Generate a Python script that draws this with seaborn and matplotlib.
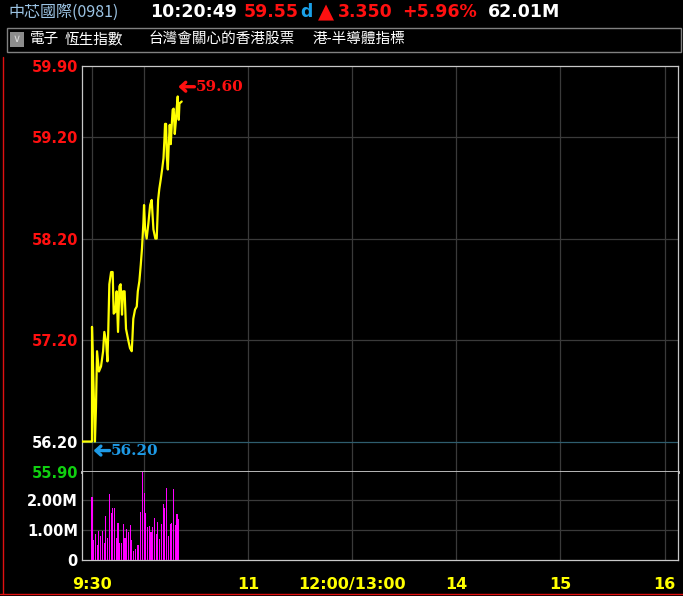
import numpy as np
import pandas as pd
import matplotlib
matplotlib.use("Agg")
import matplotlib.pyplot as plt
import matplotlib.transforms as mtransforms
import seaborn as sns
from matplotlib.patches import Rectangle
from matplotlib.lines import Line2D

# ---------------- data ----------------
# minutes after 9:30 (lunch break collapsed), price
minutes = [-5.8, 0.0, 0.0, 1.2, 1.7, 2.3, 2.9, 4.0, 5.2, 6.4, 7.1, 8.1, 8.9, 9.4,
           10.0, 11.0, 11.9, 12.5, 13.5, 14.2, 15.0, 15.8, 16.5, 17.3, 17.9,
           18.8, 19.6, 21.0, 21.9, 22.9, 23.3, 23.8, 24.8, 25.8, 26.4, 27.3,
           28.1, 28.8, 29.6, 30.0, 30.6, 31.5, 32.5, 33.5, 34.4, 35.4, 36.5,
           37.3, 38.1, 38.8, 39.6, 40.4, 41.2, 41.7, 42.1, 42.7, 43.1, 43.7,
           44.2, 44.8, 45.4, 46.0, 46.5, 47.1, 47.7, 48.3, 48.8, 49.4, 50.0,
           50.4, 51.7]
prices = [56.20, 56.20, 57.33, 56.55, 56.20, 56.54, 57.09, 56.89, 56.94, 57.09,
          57.28, 57.19, 56.99, 57.31, 57.75, 57.87, 57.87, 57.46, 57.48, 57.68,
          57.28, 57.73, 57.75, 57.45, 57.68, 57.68, 57.31, 57.19, 57.12, 57.09,
          57.22, 57.41, 57.50, 57.53, 57.68, 57.78, 57.94, 58.10, 58.35, 58.53,
          58.29, 58.20, 58.35, 58.53, 58.58, 58.29, 58.20, 58.20, 58.58, 58.69,
          58.78, 58.88, 58.99, 59.16, 59.33, 59.33, 59.01, 58.88, 59.11, 59.32,
          59.13, 59.33, 59.47, 59.48, 59.23, 59.35, 59.48, 59.60, 59.37, 59.53,
          59.55]

vol_minutes = list(range(51))
vol_m = [2.09, 0.67, 0.87, 0.50, 0.98, 0.80, 0.96, 0.58, 1.47, 0.74,
         2.20, 1.58, 1.74, 1.74, 0.74, 1.24, 0.58, 0.58, 1.20, 0.74,
         1.04, 0.94, 1.16, 0.66, 0.30, 0.37, 0.50, 0.50, 1.59, 2.92,
         2.23, 1.58, 1.10, 1.14, 0.93, 1.11, 1.40, 0.87, 1.27, 0.70,
         1.20, 1.87, 1.74, 2.40, 0.80, 1.20, 1.23, 2.37, 1.16, 1.53, 1.37]

prev_close = 56.20
high_price = 59.60

price_ticks = [59.90, 59.20, 58.20, 57.20, 56.20, 55.90]
price_tick_labels = ["59.90", "59.20", "58.20", "57.20", "56.20", "55.90"]
price_tick_colors = ["#ff1010", "#ff1010", "#ff1010", "#ff1010", "#ffffff", "#10d010"]
grid_prices = [59.20, 58.20, 57.20]

vol_ticks = [0, 1, 2]
vol_tick_labels = ["0", "1.00M", "2.00M"]

time_ticks = [0, 90, 150, 210, 270, 330]
time_labels = ["9:30", "11", "12:00/13:00", "14", "15", "16"]
grid_times = [0, 30, 90, 150, 210, 270, 330]

stock_name = "中芯國際(0981)"
quote_time = "10:20:49"
last_price = "59.55"
change = "3.350"
change_pct = "+5.96%"
turnover = "62.01M"
categories = ["電子", "恆生指數", "台灣會關心的香港股票", "港-半導體指標"]

# ---------------- styling ----------------
sns.set_style("dark")
plt.rcParams["font.family"] = ["DejaVu Sans"]
W, H = 683, 596
def fx(x): return x / W
def fy(y): return 1 - y / H

fig = plt.figure(figsize=(W / 100, H / 100), dpi=100, facecolor="black")

x0, x1 = 82, 678
yp_top, yp_bot, yv_bot = 66, 472, 560
ax_p = fig.add_axes([fx(x0), fy(yp_bot), (x1 - x0) / W, (yp_bot - yp_top) / H])
ax_v = fig.add_axes([fx(x0), fy(yv_bot), (x1 - x0) / W, (yv_bot - yp_bot) / H], sharex=ax_p)
for ax in (ax_p, ax_v):
    ax.set_facecolor("black")
    ax.grid(False)

grid_c = "#3a3a3a"
for t in grid_times:
    ax_p.axvline(t, color=grid_c, lw=0.9, zorder=1)
    ax_v.axvline(t, color=grid_c, lw=0.9, zorder=1)
for p in grid_prices:
    ax_p.axhline(p, color=grid_c, lw=0.9, zorder=1)
for v in vol_ticks[1:]:
    ax_v.axhline(v, color=grid_c, lw=0.9, zorder=1)
ax_p.axhline(prev_close, color="#2e5d6e", lw=0.9, zorder=1)

df_p = pd.DataFrame({"t": minutes, "price": prices})
sns.lineplot(data=df_p, x="t", y="price", ax=ax_p, color="#ffff00", lw=1.6,
             estimator=None, sort=False, zorder=3)

df_v = pd.DataFrame({"t": vol_minutes, "vol": vol_m})
sns.barplot(data=df_v, x="t", y="vol", ax=ax_v, native_scale=True, width=0.62,
            color="#ff00ff", saturation=1, errorbar=None, linewidth=0, zorder=3)
for patch in ax_v.patches:
    patch.set_antialiased(False)

px_per_min = 1.735
ax_p.set_xlim((x0 - 92) / px_per_min, (x1 - 92) / px_per_min)
ax_p.set_ylim(55.90, 59.90)
ax_v.set_ylim(0, (yv_bot - yp_bot) / 30.0)

# ticks
ax_p.set_yticks(price_ticks)
ax_p.set_yticklabels(price_tick_labels)
for lbl, c in zip(ax_p.get_yticklabels(), price_tick_colors):
    lbl.set_color(c)
    lbl.set_fontweight("bold")
    lbl.set_fontsize(10.5)
ax_p.tick_params(axis="y", length=0, pad=3)
ax_p.tick_params(axis="x", length=0, labelbottom=False)

ax_v.set_yticks(vol_ticks)
ax_v.set_yticklabels(vol_tick_labels, color="white", fontweight="bold", fontsize=10.5)
ax_v.tick_params(axis="y", length=0, pad=3)
ax_v.set_xticks(time_ticks)
ax_v.set_xticklabels(time_labels, color="#ffff00", fontweight="bold", fontsize=11.5)
ax_v.tick_params(axis="x", length=5, width=1, color="#ffff00", pad=7, direction="out")
ax_p.set_xlabel(""); ax_p.set_ylabel("")
ax_v.set_xlabel(""); ax_v.set_ylabel("")

# spines
for name, sp in ax_p.spines.items():
    sp.set_visible(True)
    sp.set_color("#c8c8c8")
    sp.set_linewidth(0.9)
ax_p.spines["bottom"].set_linewidth(2.0)
for name, sp in ax_v.spines.items():
    sp.set_visible(name != "top")
    sp.set_color("#c8c8c8")
    sp.set_linewidth(0.9)

# annotations: thick left arrow + value
num_font = dict(family="DejaVu Serif", fontweight="bold", fontsize=11)
arrow_style = "->,head_length=0.35,head_width=0.32"

def marker_label(x, y, dy, value, color):
    base = mtransforms.offset_copy(ax_p.transData, fig=fig, x=0.5, y=dy, units="points")
    ax_p.annotate("", xy=(x, y), xycoords=base, xytext=(11.5, 0),
                  textcoords="offset points",
                  arrowprops=dict(arrowstyle=arrow_style, color=color, lw=2.4,
                                  shrinkA=0, shrinkB=0), zorder=5)
    ax_p.annotate(f"{value:.2f}", xy=(x, y), xycoords=base, xytext=(12.5, -0.5),
                  textcoords="offset points", ha="left", va="center", color=color,
                  **num_font, zorder=5)

hi_t = minutes[prices.index(high_price)]
marker_label(hi_t, high_price, 7.0, high_price, "#ff1010")
marker_label(0.5, prev_close, -6.5, prev_close, "#1e9ae6")

# header
cjk = ["Noto Sans CJK TC", "DejaVu Sans"]
fig.text(fx(8), fy(12), stock_name, color="#9cc4e4", fontsize=11.5, family=cjk, va="center")
hb = dict(fontsize=12.5, fontweight="bold", va="center")
fig.text(fx(150), fy(12), quote_time, color="white", **hb)
fig.text(fx(244), fy(12), last_price, color="#ff1010", **hb)
fig.text(fx(300), fy(12), "d", color="#1aa0e8", **hb)
fig.text(fx(318), fy(12.5), "▲", color="#ff1010", fontsize=15, va="center")
fig.text(fx(338), fy(12), change, color="#ff1010", **hb)
fig.text(fx(402), fy(12), change_pct, color="#ff1010", **hb)
fig.text(fx(488), fy(12), turnover, color="white", **hb)

fig.patches.append(Rectangle((fx(7), fy(52)), (681 - 7) / W, (52 - 28) / H,
                             transform=fig.transFigure, fill=False, ec="#808080", lw=1))
fig.patches.append(Rectangle((fx(10), fy(47)), 14 / W, 15 / H,
                             transform=fig.transFigure, fill=True, fc="#8c8c8c", ec="none"))
fig.text(fx(17), fy(39.5), "∨", color="#d8d8d8", fontsize=8, ha="center", va="center")
cat_x = [30, 65, 149, 313]
for cx, cat in zip(cat_x, categories):
    fig.text(fx(cx), fy(39), cat, color="white", fontsize=10.5, family=cjk, va="center")

# window frame
fig.lines.append(Line2D([fx(2.5), fx(2.5)], [fy(57), fy(593.5)], transform=fig.transFigure,
                        color="#e01010", lw=1))
fig.lines.append(Line2D([fx(0), fx(683)], [fy(593.5), fy(593.5)], transform=fig.transFigure,
                        color="#e01010", lw=1))

fig.savefig("out.png", dpi=100, facecolor="black")
